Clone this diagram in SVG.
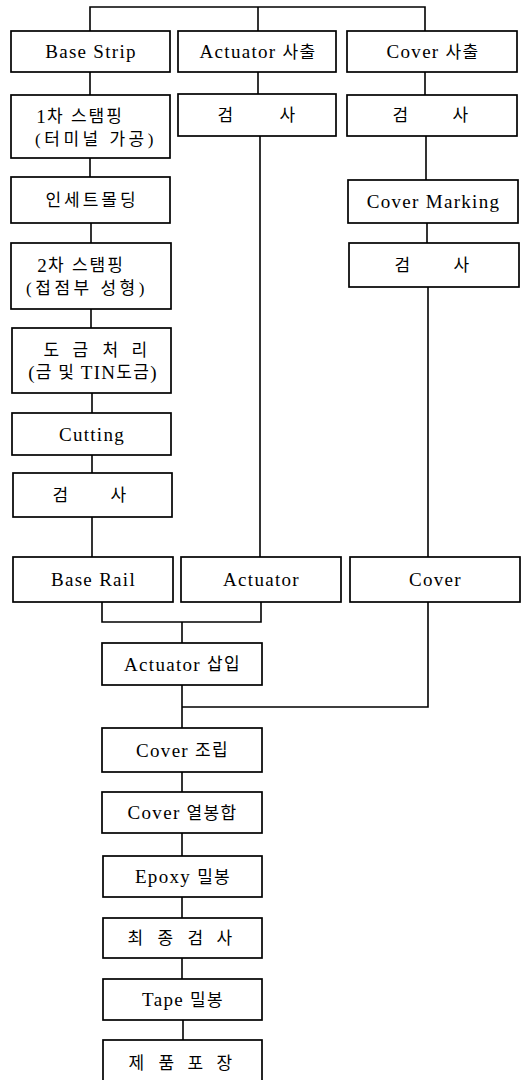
<svg xmlns="http://www.w3.org/2000/svg" width="524" height="1080" viewBox="0 0 524 1080">
<style>
rect.b{fill:#fff;stroke:#000;stroke-width:1.7}
.c line,.c polyline{fill:none;stroke:#000;stroke-width:1.6}
text{font-family:"Liberation Serif","Noto Sans CJK KR",serif;font-size:19px;fill:#000;text-anchor:middle;dominant-baseline:central;letter-spacing:1.3px}
.k{font-size:17px}
.w{letter-spacing:3.5px}
</style>
<rect width="524" height="1080" fill="#fff"/>
<g class="c" id="connectors">
<polyline points="90,31 90,7 425,7 425,31"/>
<line x1="258" y1="7" x2="258" y2="31"/>
<line x1="90" y1="72" x2="90" y2="95"/>
<line x1="90" y1="158" x2="90" y2="177"/>
<line x1="91" y1="223" x2="91" y2="243"/>
<line x1="91" y1="309" x2="91" y2="328"/>
<line x1="92" y1="393" x2="92" y2="413"/>
<line x1="92" y1="455" x2="92" y2="473"/>
<line x1="92" y1="517" x2="92" y2="557"/>
<line x1="258" y1="72" x2="258" y2="94"/>
<line x1="260" y1="136" x2="260" y2="557"/>
<line x1="425" y1="72" x2="425" y2="95"/>
<line x1="426" y1="136" x2="426" y2="180"/>
<line x1="427" y1="223" x2="427" y2="243"/>
<line x1="428" y1="287" x2="428" y2="557"/>
<polyline points="102,602 102,622 261,622 261,602"/>
<line x1="182" y1="622" x2="182" y2="643"/>
<line x1="182" y1="685" x2="182" y2="728"/>
<polyline points="428,602 428,707 182,707"/>
<line x1="182" y1="772" x2="182" y2="792"/>
<line x1="182" y1="833" x2="182" y2="856"/>
<line x1="182" y1="897" x2="182" y2="918"/>
<line x1="182" y1="958" x2="182" y2="979"/>
<line x1="183" y1="1020" x2="183" y2="1040"/>
</g>
<g id="base-strip"><rect class="b" x="11" y="31" width="159" height="41"/><text x="91" y="51.5">Base Strip</text></g>
<g id="actuator-injection"><rect class="b" x="178" y="31" width="158" height="41"/><text x="258" y="51.5">Actuator <tspan class="k">사출</tspan></text></g>
<g id="cover-injection"><rect class="b" x="347" y="31" width="170" height="41"/><text x="433" y="51.5">Cover <tspan class="k">사출</tspan></text></g>
<g id="stamping1"><rect class="b" x="11" y="95" width="159" height="63"/><text x="80" y="116">1<tspan class="k" style="letter-spacing:2px">차 스탬핑</tspan></text><text class="k w" x="96" y="139">(터미널 가공)</text></g>
<g id="actuator-inspect"><rect class="b" x="178" y="94" width="158" height="42"/><text class="k" x="226 288" y="115">검사</text></g>
<g id="cover-inspect1"><rect class="b" x="347" y="95" width="170" height="41"/><text class="k" x="401 461" y="115.5">검사</text></g>
<g id="insert-molding"><rect class="b" x="11" y="177" width="159" height="46"/><text class="k" x="92" y="200" style="letter-spacing:3px">인세트몰딩</text></g>
<g id="cover-marking"><rect class="b" x="348" y="180" width="170" height="43"/><text x="433.5" y="201.5">Cover Marking</text></g>
<g id="stamping2"><rect class="b" x="11" y="243" width="160" height="66"/><text x="81" y="265">2<tspan class="k" style="letter-spacing:2px">차 스탬핑</tspan></text><text class="k w" x="87" y="288">(접점부 성형)</text></g>
<g id="cover-inspect2"><rect class="b" x="349" y="243" width="170" height="44"/><text class="k" x="403 462" y="265">검사</text></g>
<g id="plating"><rect class="b" x="12" y="328" width="159" height="65"/><text class="k" x="52 81 111 140" y="350">도금처리</text><text x="93" y="372">(<tspan class="k">금 및 </tspan>TIN<tspan class="k">도금</tspan>)</text></g>
<g id="cutting"><rect class="b" x="12" y="413" width="159" height="42"/><text x="92" y="434">Cutting</text></g>
<g id="inspect"><rect class="b" x="13" y="473" width="159" height="44"/><text class="k" x="61 119" y="495">검사</text></g>
<g id="base-rail"><rect class="b" x="13" y="557" width="160" height="45"/><text x="93.5" y="579.5">Base Rail</text></g>
<g id="actuator"><rect class="b" x="181" y="557" width="160" height="45"/><text x="261.5" y="579.5">Actuator</text></g>
<g id="cover"><rect class="b" x="350" y="557" width="170" height="45"/><text x="435.5" y="579.5">Cover</text></g>
<g id="actuator-insert"><rect class="b" x="102" y="643" width="160" height="42"/><text x="182.5" y="664">Actuator <tspan class="k">삽입</tspan></text></g>
<g id="cover-assembly"><rect class="b" x="102" y="728" width="160" height="44"/><text x="182.5" y="750">Cover <tspan class="k">조립</tspan></text></g>
<g id="cover-heat-seal"><rect class="b" x="102" y="792" width="160" height="41"/><text x="182.5" y="812.5">Cover <tspan class="k">열봉합</tspan></text></g>
<g id="epoxy-seal"><rect class="b" x="103" y="856" width="159" height="41"/><text x="183" y="876.5">Epoxy <tspan class="k">밀봉</tspan></text></g>
<g id="final-inspect"><rect class="b" x="103" y="918" width="159" height="40"/><text class="k" x="136 166 196 225" y="938">최종검사</text></g>
<g id="tape-seal"><rect class="b" x="103" y="979" width="159" height="41"/><text x="183" y="999.5">Tape <tspan class="k">밀봉</tspan></text></g>
<g id="packaging"><rect class="b" x="103" y="1040" width="159" height="50"/><text class="k" x="137 167 196 225" y="1063">제품포장</text></g>
</svg>
